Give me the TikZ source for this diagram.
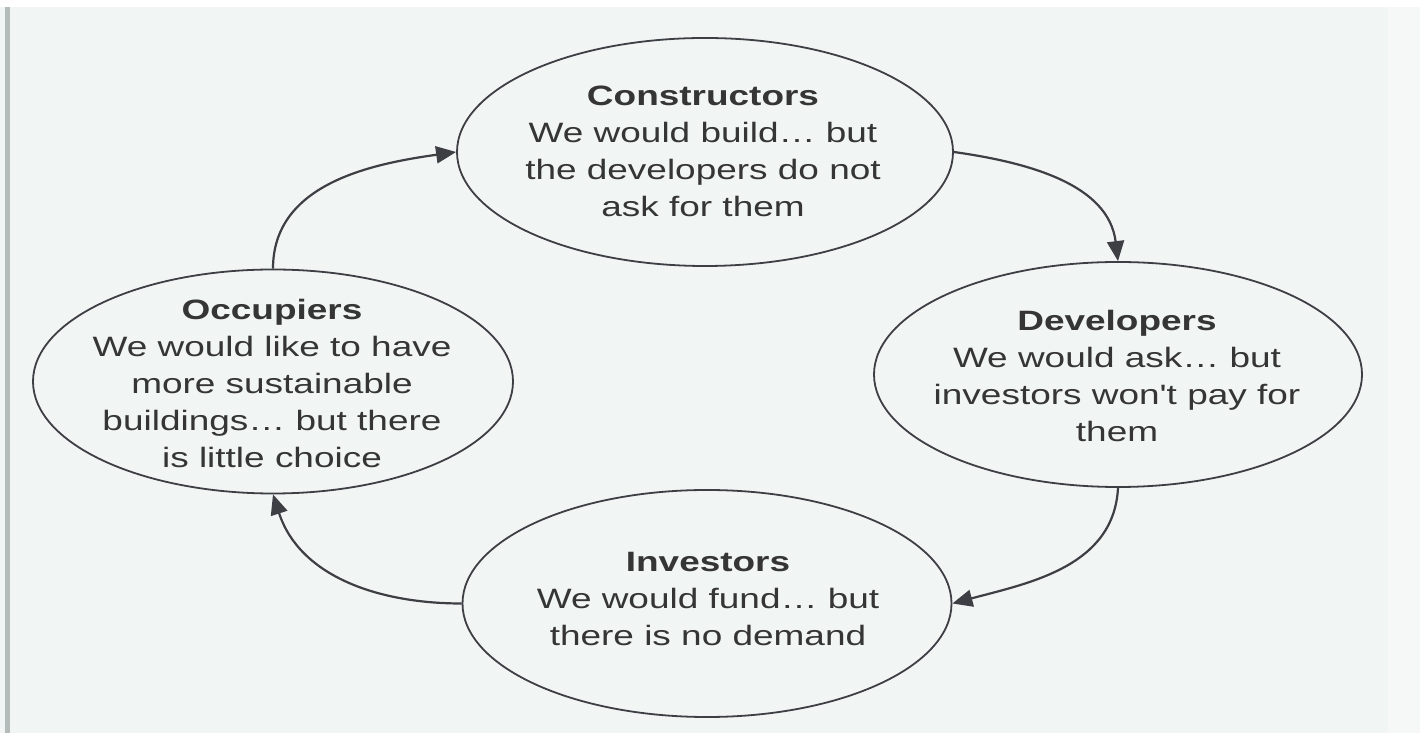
\documentclass[tikz,border=0pt]{standalone}
\usepackage{fontspec}
\usetikzlibrary{shapes.geometric,arrows.meta}
\newfontfamily\diagfont[FakeStretch=1.32]{Liberation Sans}
\definecolor{bgc}{HTML}{F1F5F3}
\definecolor{rightc}{HTML}{F5F8F7}
\definecolor{bandc}{HTML}{B4BBBB}
\definecolor{linec}{HTML}{3E3E45}
\definecolor{textc}{HTML}{353535}
\tikzset{
  ell/.style={ellipse, draw=linec, line width=1.8pt, inner sep=0pt},
  txt/.style={align=center, inner sep=0pt, text=textc,
    font=\diagfont\fontsize{28}{37}\selectfont},
  conn/.style={draw=linec, line width=2.2pt,
    -{Triangle[length=20pt,width=17pt]}}
}
\begin{document}
\begin{tikzpicture}[x=1pt,y=1pt]
\useasboundingbox (0,0) rectangle (1420,733);
\fill[bgc] (0,0) rectangle (1420,733);
\fill[rightc] (1388,0) rectangle (1420,726);
\fill[white] (0,726) rectangle (1420,733);
\fill[bandc] (5,0) rectangle (10,726);

\node[ell, minimum width=496pt, minimum height=228pt] (con) at (705,581) {};
\node[ell, minimum width=488pt, minimum height=225pt] (dev) at (1118,358.5) {};
\node[ell, minimum width=489pt, minimum height=227pt] (inv) at (707,129.5) {};
\node[ell, minimum width=480pt, minimum height=224pt] (occ) at (273,351.5) {};

\node[txt] (cont) at (703,581.5) {\textbf{Constructors}\\We would build… but\\the developers do not\\ask for them};
\node[txt] (devt) at (1117,357) {\textbf{Developers}\\We would ask… but\\investors won't pay for\\them};
\node[txt] (invt) at (708,134) {\textbf{Investors}\\We would fund… but\\there is no demand};
\node[txt] (occt) at (272,350) {\textbf{Occupiers}\\We would like to have\\more sustainable\\buildings… but there\\is little choice};

\draw[conn] (occ.north) to[out=90,in=188] (con.west);
\draw[conn] (con.east) to[out=-8,in=97] (dev.north);
\draw[conn] (dev.south) to[out=-93,in=15] (inv.east);
\draw[conn] (inv.west) to[out=180,in=-72] (occ.south);
\end{tikzpicture}
\end{document}
